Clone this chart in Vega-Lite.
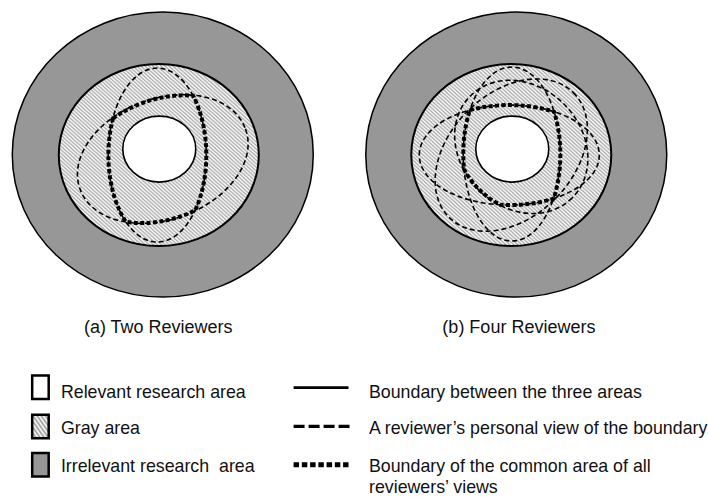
{
  "$schema": "https://vega.github.io/schema/vega-lite/v6.json",
  "width": 708,
  "height": 497,
  "padding": 0,
  "autosize": {"type": "fit", "contains": "padding"},
  "background": "white",
  "config": {"view": {"stroke": null}},
  "datasets": {
    "rings": [
      {"fig": "a", "ring": "irrelevant", "x": 163, "y": 155.5},
      {"fig": "b", "ring": "irrelevant", "x": 517, "y": 155.5},
      {"fig": "a", "ring": "gray", "x": 159, "y": 156},
      {"fig": "b", "ring": "gray", "x": 512, "y": 156},
      {"fig": "a", "ring": "relevant", "x": 159.5, "y": 150},
      {"fig": "b", "ring": "relevant", "x": 513, "y": 150}
    ],
    "views": [
      {"fig": "a", "reviewer": 1, "x": 157.5, "y": 156},
      {"fig": "a", "reviewer": 2, "x": 163, "y": 160},
      {"fig": "b", "reviewer": 1, "x": 510, "y": 156},
      {"fig": "b", "reviewer": 2, "x": 512.5, "y": 155},
      {"fig": "b", "reviewer": 3, "x": 522, "y": 147.8},
      {"fig": "b", "reviewer": 4, "x": 512, "y": 156}
    ],
    "common": [
      {"fig": "a", "x": 157.5, "y": 156},
      {"fig": "b", "x": 512, "y": 156}
    ],
    "captions": [
      {"text": "(a) Two Reviewers", "x": 84, "y": 335},
      {"text": "(b) Four Reviewers", "x": 443, "y": 335}
    ],
    "areaKeys": [
      {"area": "relevant", "x": 40.5, "y": 389.5},
      {"area": "gray", "x": 40.5, "y": 429},
      {"area": "irrelevant", "x": 40.5, "y": 467.5}
    ],
    "lineKeys": [
      {"line": "solid", "x": 294, "x2": 349, "y": 390},
      {"line": "dashed", "x": 294, "x2": 350, "y": 429},
      {"line": "dotted", "x": 294, "x2": 349, "y": 467.5}
    ],
    "labels": [
      {"text": "Relevant research area", "x": 61, "y": 400},
      {"text": "Gray area", "x": 61, "y": 437},
      {"text": "Irrelevant research\u00a0 area", "x": 61, "y": 474.5},
      {"text": "Boundary between the three areas", "x": 369.5, "y": 400},
      {"text": "A reviewer’s personal view of the boundary", "x": 369.5, "y": 437},
      {"text": "Boundary of the common area of all\nreviewers’ views", "x": 369.5, "y": 474.5}
    ]
  },
  "encoding": {
    "x": {"field": "x", "type": "quantitative", "scale": {"domain": [0, 708], "nice": false, "zero": false}, "axis": null},
    "y": {"field": "y", "type": "quantitative", "scale": {"domain": [0, 497], "nice": false, "zero": false, "reverse": true}, "axis": null}
  },
  "layer": [
    {
      "data": {"name": "rings"},
      "transform": [{"filter": "datum.ring === 'irrelevant'"}],
      "mark": {"type": "point", "shape": "M -150.5 0 A 150.5 142.5 0 1 1 150.5 0 A 150.5 142.5 0 1 1 -150.5 0 Z", "size": 4, "filled": true, "fill": "#979797", "stroke": "#000000", "strokeWidth": 1.5, "opacity": 1}
    },
    {
      "data": {"name": "rings"},
      "transform": [{"filter": "datum.ring === 'gray'"}],
      "mark": {"type": "point", "shape": "M -100 0 A 100 91 0 1 1 100 0 A 100 91 0 1 1 -100 0 Z", "size": 4, "filled": true, "stroke": "#000000", "strokeWidth": 2, "opacity": 1,
        "fill": {"gradient": "linear", "x1": 0, "y1": 1, "x2": 1, "y2": 0, "stops": [
{"offset":0,"color":"#aaa"},{"offset":0.005,"color":"#fff"},{"offset":0.01,"color":"#aaa"},{"offset":0.015,"color":"#fff"},{"offset":0.02,"color":"#aaa"},{"offset":0.025,"color":"#fff"},{"offset":0.03,"color":"#aaa"},{"offset":0.035,"color":"#fff"},{"offset":0.04,"color":"#aaa"},{"offset":0.045,"color":"#fff"},{"offset":0.05,"color":"#aaa"},{"offset":0.055,"color":"#fff"},{"offset":0.06,"color":"#aaa"},{"offset":0.065,"color":"#fff"},{"offset":0.07,"color":"#aaa"},{"offset":0.075,"color":"#fff"},{"offset":0.08,"color":"#aaa"},{"offset":0.085,"color":"#fff"},{"offset":0.09,"color":"#aaa"},{"offset":0.095,"color":"#fff"},
{"offset":0.1,"color":"#aaa"},{"offset":0.105,"color":"#fff"},{"offset":0.11,"color":"#aaa"},{"offset":0.115,"color":"#fff"},{"offset":0.12,"color":"#aaa"},{"offset":0.125,"color":"#fff"},{"offset":0.13,"color":"#aaa"},{"offset":0.135,"color":"#fff"},{"offset":0.14,"color":"#aaa"},{"offset":0.145,"color":"#fff"},{"offset":0.15,"color":"#aaa"},{"offset":0.155,"color":"#fff"},{"offset":0.16,"color":"#aaa"},{"offset":0.165,"color":"#fff"},{"offset":0.17,"color":"#aaa"},{"offset":0.175,"color":"#fff"},{"offset":0.18,"color":"#aaa"},{"offset":0.185,"color":"#fff"},{"offset":0.19,"color":"#aaa"},{"offset":0.195,"color":"#fff"},
{"offset":0.2,"color":"#aaa"},{"offset":0.205,"color":"#fff"},{"offset":0.21,"color":"#aaa"},{"offset":0.215,"color":"#fff"},{"offset":0.22,"color":"#aaa"},{"offset":0.225,"color":"#fff"},{"offset":0.23,"color":"#aaa"},{"offset":0.235,"color":"#fff"},{"offset":0.24,"color":"#aaa"},{"offset":0.245,"color":"#fff"},{"offset":0.25,"color":"#aaa"},{"offset":0.255,"color":"#fff"},{"offset":0.26,"color":"#aaa"},{"offset":0.265,"color":"#fff"},{"offset":0.27,"color":"#aaa"},{"offset":0.275,"color":"#fff"},{"offset":0.28,"color":"#aaa"},{"offset":0.285,"color":"#fff"},{"offset":0.29,"color":"#aaa"},{"offset":0.295,"color":"#fff"},
{"offset":0.3,"color":"#aaa"},{"offset":0.305,"color":"#fff"},{"offset":0.31,"color":"#aaa"},{"offset":0.315,"color":"#fff"},{"offset":0.32,"color":"#aaa"},{"offset":0.325,"color":"#fff"},{"offset":0.33,"color":"#aaa"},{"offset":0.335,"color":"#fff"},{"offset":0.34,"color":"#aaa"},{"offset":0.345,"color":"#fff"},{"offset":0.35,"color":"#aaa"},{"offset":0.355,"color":"#fff"},{"offset":0.36,"color":"#aaa"},{"offset":0.365,"color":"#fff"},{"offset":0.37,"color":"#aaa"},{"offset":0.375,"color":"#fff"},{"offset":0.38,"color":"#aaa"},{"offset":0.385,"color":"#fff"},{"offset":0.39,"color":"#aaa"},{"offset":0.395,"color":"#fff"},
{"offset":0.4,"color":"#aaa"},{"offset":0.405,"color":"#fff"},{"offset":0.41,"color":"#aaa"},{"offset":0.415,"color":"#fff"},{"offset":0.42,"color":"#aaa"},{"offset":0.425,"color":"#fff"},{"offset":0.43,"color":"#aaa"},{"offset":0.435,"color":"#fff"},{"offset":0.44,"color":"#aaa"},{"offset":0.445,"color":"#fff"},{"offset":0.45,"color":"#aaa"},{"offset":0.455,"color":"#fff"},{"offset":0.46,"color":"#aaa"},{"offset":0.465,"color":"#fff"},{"offset":0.47,"color":"#aaa"},{"offset":0.475,"color":"#fff"},{"offset":0.48,"color":"#aaa"},{"offset":0.485,"color":"#fff"},{"offset":0.49,"color":"#aaa"},{"offset":0.495,"color":"#fff"},
{"offset":0.5,"color":"#aaa"},{"offset":0.505,"color":"#fff"},{"offset":0.51,"color":"#aaa"},{"offset":0.515,"color":"#fff"},{"offset":0.52,"color":"#aaa"},{"offset":0.525,"color":"#fff"},{"offset":0.53,"color":"#aaa"},{"offset":0.535,"color":"#fff"},{"offset":0.54,"color":"#aaa"},{"offset":0.545,"color":"#fff"},{"offset":0.55,"color":"#aaa"},{"offset":0.555,"color":"#fff"},{"offset":0.56,"color":"#aaa"},{"offset":0.565,"color":"#fff"},{"offset":0.57,"color":"#aaa"},{"offset":0.575,"color":"#fff"},{"offset":0.58,"color":"#aaa"},{"offset":0.585,"color":"#fff"},{"offset":0.59,"color":"#aaa"},{"offset":0.595,"color":"#fff"},
{"offset":0.6,"color":"#aaa"},{"offset":0.605,"color":"#fff"},{"offset":0.61,"color":"#aaa"},{"offset":0.615,"color":"#fff"},{"offset":0.62,"color":"#aaa"},{"offset":0.625,"color":"#fff"},{"offset":0.63,"color":"#aaa"},{"offset":0.635,"color":"#fff"},{"offset":0.64,"color":"#aaa"},{"offset":0.645,"color":"#fff"},{"offset":0.65,"color":"#aaa"},{"offset":0.655,"color":"#fff"},{"offset":0.66,"color":"#aaa"},{"offset":0.665,"color":"#fff"},{"offset":0.67,"color":"#aaa"},{"offset":0.675,"color":"#fff"},{"offset":0.68,"color":"#aaa"},{"offset":0.685,"color":"#fff"},{"offset":0.69,"color":"#aaa"},{"offset":0.695,"color":"#fff"},
{"offset":0.7,"color":"#aaa"},{"offset":0.705,"color":"#fff"},{"offset":0.71,"color":"#aaa"},{"offset":0.715,"color":"#fff"},{"offset":0.72,"color":"#aaa"},{"offset":0.725,"color":"#fff"},{"offset":0.73,"color":"#aaa"},{"offset":0.735,"color":"#fff"},{"offset":0.74,"color":"#aaa"},{"offset":0.745,"color":"#fff"},{"offset":0.75,"color":"#aaa"},{"offset":0.755,"color":"#fff"},{"offset":0.76,"color":"#aaa"},{"offset":0.765,"color":"#fff"},{"offset":0.77,"color":"#aaa"},{"offset":0.775,"color":"#fff"},{"offset":0.78,"color":"#aaa"},{"offset":0.785,"color":"#fff"},{"offset":0.79,"color":"#aaa"},{"offset":0.795,"color":"#fff"},
{"offset":0.8,"color":"#aaa"},{"offset":0.805,"color":"#fff"},{"offset":0.81,"color":"#aaa"},{"offset":0.815,"color":"#fff"},{"offset":0.82,"color":"#aaa"},{"offset":0.825,"color":"#fff"},{"offset":0.83,"color":"#aaa"},{"offset":0.835,"color":"#fff"},{"offset":0.84,"color":"#aaa"},{"offset":0.845,"color":"#fff"},{"offset":0.85,"color":"#aaa"},{"offset":0.855,"color":"#fff"},{"offset":0.86,"color":"#aaa"},{"offset":0.865,"color":"#fff"},{"offset":0.87,"color":"#aaa"},{"offset":0.875,"color":"#fff"},{"offset":0.88,"color":"#aaa"},{"offset":0.885,"color":"#fff"},{"offset":0.89,"color":"#aaa"},{"offset":0.895,"color":"#fff"},
{"offset":0.9,"color":"#aaa"},{"offset":0.905,"color":"#fff"},{"offset":0.91,"color":"#aaa"},{"offset":0.915,"color":"#fff"},{"offset":0.92,"color":"#aaa"},{"offset":0.925,"color":"#fff"},{"offset":0.93,"color":"#aaa"},{"offset":0.935,"color":"#fff"},{"offset":0.94,"color":"#aaa"},{"offset":0.945,"color":"#fff"},{"offset":0.95,"color":"#aaa"},{"offset":0.955,"color":"#fff"},{"offset":0.96,"color":"#aaa"},{"offset":0.965,"color":"#fff"},{"offset":0.97,"color":"#aaa"},{"offset":0.975,"color":"#fff"},{"offset":0.98,"color":"#aaa"},{"offset":0.985,"color":"#fff"},{"offset":0.99,"color":"#aaa"},{"offset":0.995,"color":"#fff"},{"offset":1,"color":"#aaa"}
        ]}}
    },
    {
      "data": {"name": "rings"},
      "transform": [{"filter": "datum.ring === 'relevant'"}],
      "mark": {"type": "point", "shape": "M -36.5 0 A 36.5 33 0 1 1 36.5 0 A 36.5 33 0 1 1 -36.5 0 Z", "size": 4, "filled": true, "fill": "#ffffff", "stroke": "#000000", "strokeWidth": 1.6, "opacity": 1}
    },
    {
      "data": {"name": "views"},
      "transform": [{"filter": "datum.fig === 'a' && datum.reviewer === 1"}],
      "mark": {"type": "point", "shape": "M -49 0 A 49 87 0 1 1 49 0 A 49 87 0 1 1 -49 0 Z", "size": 4, "filled": false, "stroke": "#000000", "strokeWidth": 1.6, "strokeDash": [5, 3], "opacity": 1}
    },
    {
      "data": {"name": "views"},
      "transform": [{"filter": "datum.fig === 'a' && datum.reviewer === 2"}],
      "mark": {"type": "point", "shape": "M 82.69 -30.1 A 88 60 -20 1 1 -82.69 30.1 A 88 60 -20 1 1 82.69 -30.1 Z", "size": 4, "filled": false, "stroke": "#000000", "strokeWidth": 1.6, "strokeDash": [5, 3], "opacity": 1}
    },
    {
      "data": {"name": "views"},
      "transform": [{"filter": "datum.fig === 'b' && datum.reviewer === 1"}],
      "mark": {"type": "point", "shape": "M -90 0 A 90 50 0 1 1 90 0 A 90 50 0 1 1 -90 0 Z", "size": 4, "filled": false, "stroke": "#000000", "strokeWidth": 1.6, "strokeDash": [5, 3], "opacity": 1}
    },
    {
      "data": {"name": "views"},
      "transform": [{"filter": "datum.fig === 'b' && datum.reviewer === 2"}],
      "mark": {"type": "point", "shape": "M -48.5 0 A 48.5 87 0 1 1 48.5 0 A 48.5 87 0 1 1 -48.5 0 Z", "size": 4, "filled": false, "stroke": "#000000", "strokeWidth": 1.6, "strokeDash": [5, 3], "opacity": 1}
    },
    {
      "data": {"name": "views"},
      "transform": [{"filter": "datum.fig === 'b' && datum.reviewer === 3"}],
      "mark": {"type": "point", "shape": "M 50.91 50.91 A 72 60 45 1 1 -50.91 -50.91 A 72 60 45 1 1 50.91 50.91 Z", "size": 4, "filled": false, "stroke": "#000000", "strokeWidth": 1.6, "strokeDash": [5, 3], "opacity": 1}
    },
    {
      "data": {"name": "views"},
      "transform": [{"filter": "datum.fig === 'b' && datum.reviewer === 4"}],
      "mark": {"type": "point", "shape": "M 62.23 -62.23 A 88 62 -45 1 1 -62.23 62.23 A 88 62 -45 1 1 62.23 -62.23 Z", "size": 4, "filled": false, "stroke": "#000000", "strokeWidth": 1.6, "strokeDash": [5, 3], "opacity": 1}
    },
    {
      "data": {"name": "common"},
      "transform": [{"filter": "datum.fig === 'a'"}],
      "mark": {"type": "point", "shape": "M -44.3 -36.6 A 88 60 -20 0 1 35.8 -59.4 A 49 87 0 0 1 37.8 55.5 A 88 60 -20 0 1 -31.5 66.6 A 49 87 0 0 1 -44.3 -36.6 Z", "size": 4, "filled": false, "stroke": "#000000", "strokeWidth": 4, "strokeDash": [4, 2.4], "opacity": 1}
    },
    {
      "data": {"name": "common"},
      "transform": [{"filter": "datum.fig === 'b'"}],
      "mark": {"type": "point", "shape": "M -41.4 -45 A 90 50 0 0 1 42.8 -43.3 A 48.5 87 0 0 1 42.4 43.5 A 90 50 0 0 1 -11 49.8 A 72 60 45 0 1 -47.2 14.3 A 48.5 87 0 0 1 -41.4 -45 Z", "size": 4, "filled": false, "stroke": "#000000", "strokeWidth": 4, "strokeDash": [4, 2.4], "opacity": 1}
    },
    {
      "data": {"name": "captions"},
      "mark": {"type": "text", "align": "left", "baseline": "alphabetic", "font": "Liberation Sans", "fontSize": 18, "color": "#111111"},
      "encoding": {"text": {"field": "text"}}
    },
    {
      "data": {"name": "areaKeys"},
      "transform": [{"filter": "datum.area === 'relevant'"}],
      "mark": {"type": "point", "shape": "M -8.25 -11.75 H 8.25 V 11.75 H -8.25 Z", "size": 4, "filled": true, "fill": "#ffffff", "stroke": "#000000", "strokeWidth": 2.5, "opacity": 1}
    },
    {
      "data": {"name": "areaKeys"},
      "transform": [{"filter": "datum.area === 'gray'"}],
      "mark": {"type": "point", "shape": "M -8.25 -11.75 H 8.25 V 11.75 H -8.25 Z", "size": 4, "filled": true, "stroke": "#000000", "strokeWidth": 2.5, "opacity": 1,
        "fill": {"gradient": "linear", "x1": 0, "y1": 1, "x2": 1, "y2": 0, "stops": [
{"offset":0,"color":"#999"},{"offset":0.0625,"color":"#fff"},{"offset":0.125,"color":"#999"},{"offset":0.1875,"color":"#fff"},{"offset":0.25,"color":"#999"},{"offset":0.3125,"color":"#fff"},{"offset":0.375,"color":"#999"},{"offset":0.4375,"color":"#fff"},{"offset":0.5,"color":"#999"},{"offset":0.5625,"color":"#fff"},{"offset":0.625,"color":"#999"},{"offset":0.6875,"color":"#fff"},{"offset":0.75,"color":"#999"},{"offset":0.8125,"color":"#fff"},{"offset":0.875,"color":"#999"},{"offset":0.9375,"color":"#fff"},{"offset":1,"color":"#999"}
        ]}}
    },
    {
      "data": {"name": "areaKeys"},
      "transform": [{"filter": "datum.area === 'irrelevant'"}],
      "mark": {"type": "point", "shape": "M -8.25 -11.75 H 8.25 V 11.75 H -8.25 Z", "size": 4, "filled": true, "fill": "#979797", "stroke": "#000000", "strokeWidth": 2.5, "opacity": 1}
    },
    {
      "data": {"name": "lineKeys"},
      "transform": [{"filter": "datum.line === 'solid'"}],
      "mark": {"type": "rule", "color": "#000000", "strokeWidth": 2.7},
      "encoding": {"x2": {"field": "x2"}}
    },
    {
      "data": {"name": "lineKeys"},
      "transform": [{"filter": "datum.line === 'dashed'"}],
      "mark": {"type": "rule", "color": "#000000", "strokeWidth": 3.2, "strokeDash": [11, 4]},
      "encoding": {"x2": {"field": "x2"}}
    },
    {
      "data": {"name": "lineKeys"},
      "transform": [{"filter": "datum.line === 'dotted'"}],
      "mark": {"type": "rule", "color": "#000000", "strokeWidth": 5, "strokeDash": [5.5, 2.75]},
      "encoding": {"x2": {"field": "x2"}}
    },
    {
      "data": {"name": "labels"},
      "mark": {"type": "text", "align": "left", "baseline": "alphabetic", "font": "Liberation Sans", "fontSize": 17.8, "color": "#111111", "lineBreak": "\n", "lineHeight": 21},
      "encoding": {"text": {"field": "text"}}
    }
  ]
}
